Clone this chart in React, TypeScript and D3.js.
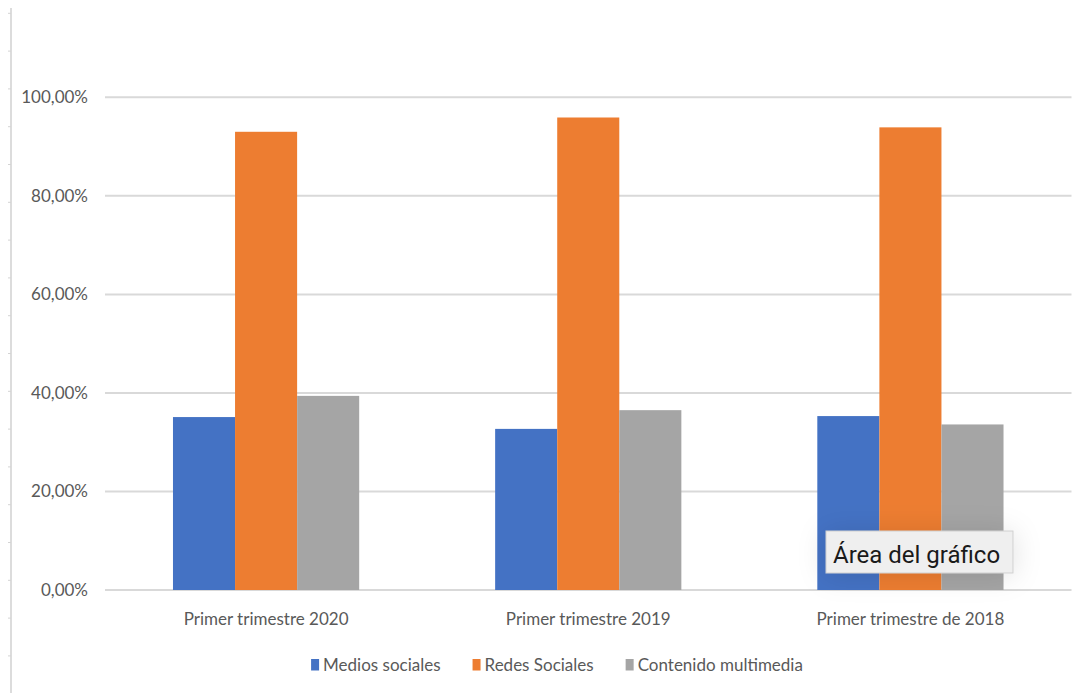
import React, { useEffect, useRef } from "react";
import * as d3 from "d3";

// Survey results per quarter, share of respondents
const categories = ["Primer trimestre 2020", "Primer trimestre 2019", "Primer trimestre de 2018"];
const seriesNames = ["Medios sociales", "Redes Sociales", "Contenido multimedia"];
const mediosSociales = [0.351, 0.327, 0.353];
const redesSociales = [0.93, 0.959, 0.939];
const contenidoMultimedia = [0.394, 0.365, 0.336];
const yTicks = [0, 0.2, 0.4, 0.6, 0.8, 1.0];
const tooltipText = "Área del gráfico";

const seriesColors = ["#4472c4", "#ed7d31", "#a5a5a5"];

const W = 1085;
const H = 693;

export default function App() {
  const ref = useRef<SVGSVGElement | null>(null);

  useEffect(() => {
    const svg = d3.select(ref.current);
    svg.selectAll("*").remove();

    const values = [mediosSociales, redesSociales, contenidoMultimedia];
    const rows = categories.map((c, i) => ({
      category: c,
      vals: seriesNames.map((s, j) => ({ series: s, value: values[j][i], color: seriesColors[j] })),
    }));

    const locale = d3.formatLocale({ decimal: ",", thousands: ".", grouping: [3], currency: ["", "€"] });
    const fmt = locale.format(".2%");

    const left = 105;
    const right = 1071.5;
    const y = d3.scaleLinear().domain([0, 1]).range([590, 97.3]);
    const x0 = d3.scaleBand<string>().domain(categories).range([left, right]).paddingInner(0.422).paddingOuter(0.211);
    const x1 = d3.scaleBand<string>().domain(seriesNames).range([0, x0.bandwidth()]).padding(0);

    const font = "Lato, 'Open Sans', sans-serif";
    const textGray = "#595959";
    const fs = 17;

    // frame edge on the left with small ticks
    svg.append("line").attr("x1", 11).attr("x2", 11).attr("y1", 8).attr("y2", H)
      .attr("stroke", "#d4d4d4").attr("stroke-width", 1.6);
    svg.append("g").selectAll("line").data(d3.range(13.3, H, 37.8)).join("line")
      .attr("x1", 8).attr("x2", 11).attr("y1", (d) => d).attr("y2", (d) => d)
      .attr("stroke", "#d4d4d4").attr("stroke-width", 1);

    // gridlines
    svg.append("g").selectAll("line").data(yTicks).join("line")
      .attr("x1", left).attr("x2", right)
      .attr("y1", (d) => y(d)).attr("y2", (d) => y(d))
      .attr("stroke", "#d9d9d9").attr("stroke-width", 2);

    // y tick labels
    svg.append("g").selectAll("text").data(yTicks).join("text")
      .attr("x", 88).attr("y", (d) => y(d)).attr("dy", "0.35em")
      .attr("text-anchor", "end").attr("font-family", font).attr("font-size", fs)
      .attr("fill", textGray).text((d) => fmt(d));

    // bars
    const g = svg.append("g").selectAll("g").data(rows).join("g")
      .attr("transform", (d) => `translate(${x0(d.category)},0)`);
    g.selectAll("rect").data((d) => d.vals).join("rect")
      .attr("x", (d) => x1(d.series)!).attr("width", x1.bandwidth())
      .attr("y", (d) => y(d.value)).attr("height", (d) => y(0) - y(d.value))
      .attr("fill", (d) => d.color);

    // category labels
    svg.append("g").selectAll("text").data(categories).join("text")
      .attr("x", (d) => x0(d)! + x0.bandwidth() / 2).attr("y", 625)
      .attr("text-anchor", "middle").attr("font-family", font).attr("font-size", fs)
      .attr("fill", textGray).text((d) => d);

    // legend
    const legend = svg.append("g");
    const items = legend.selectAll("g").data(seriesNames).join("g");
    items.append("rect").attr("x", 0).attr("y", 659).attr("width", 8).attr("height", 11.5)
      .attr("fill", (_, i) => seriesColors[i]);
    items.append("text").attr("x", 12).attr("y", 671)
      .attr("font-family", font).attr("font-size", fs).attr("fill", textGray).text((d) => d);
    let cx = 0;
    const gap = 32;
    const offsets: number[] = [];
    items.each(function () {
      const t = d3.select(this).select<SVGTextElement>("text").node()!;
      offsets.push(cx);
      cx += 12 + t.getComputedTextLength() + gap;
    });
    const total = cx - gap;
    const start = 557 - total / 2;
    items.attr("transform", (_, i) => `translate(${start + offsets[i]},0)`);

    // hover tooltip
    const defs = svg.append("defs");
    const f = defs.append("filter").attr("id", "tipShadow")
      .attr("x", "-50%").attr("y", "-150%").attr("width", "200%").attr("height", "400%");
    f.append("feDropShadow").attr("dx", 0).attr("dy", 2).attr("stdDeviation", 14)
      .attr("flood-color", "#000").attr("flood-opacity", 0.12);
    const tip = svg.append("g");
    tip.append("rect").attr("x", 826).attr("y", 531).attr("width", 187).attr("height", 42)
      .attr("fill", "#efefef").attr("stroke", "#cfcfcf").attr("stroke-width", 1)
      .attr("filter", "url(#tipShadow)");
    tip.append("text").attr("x", 833).attr("y", 563).attr("font-family", "Roboto, 'Liberation Sans', sans-serif")
      .attr("font-size", 24).attr("fill", "#1a1a1a").text(tooltipText);
  }, []);

  return (
    <svg
      ref={ref}
      width={W}
      height={H}
      style={{ position: "absolute", left: 0, top: 0, background: "#fff" }}
    />
  );
}
